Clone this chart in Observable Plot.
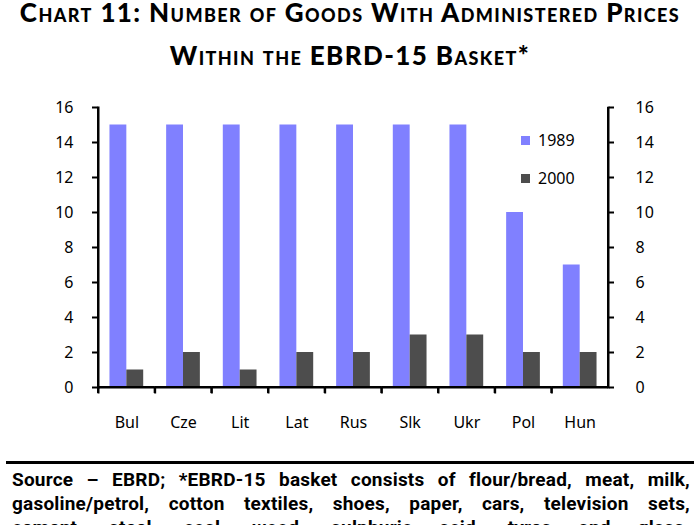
<!DOCTYPE html>
<html><head><meta charset="utf-8">
<script src="https://cdn.jsdelivr.net/npm/d3@7"></script>
<script src="https://cdn.jsdelivr.net/npm/@observablehq/plot@0.6"></script>
<style>
body{margin:0;background:#fff;overflow:hidden;}
#wrap{position:relative;width:700px;height:525px;overflow:hidden;font-family:"Noto Sans";color:#000;}
#head{position:relative;width:700px;height:80px;}
.title{position:absolute;left:0;width:700px;text-align:center;font-family:Lato;font-weight:900;font-variant:small-caps;font-size:26px;letter-spacing:1.4px;line-height:30px;white-space:nowrap;}
#wrap svg{display:block;}
.leg{position:absolute;font-size:16px;line-height:20px;white-space:nowrap;}
.leg span{display:inline-block;width:9px;height:9px;margin-right:8px;vertical-align:1px;}
#foot{position:relative;width:700px;height:65px;}
#footrule{position:absolute;left:6px;width:688px;top:1px;height:3px;background:#000;}
.foot{position:absolute;left:12px;width:678px;font-family:Roboto;font-weight:700;font-size:19px;letter-spacing:0.2px;line-height:24px;text-align:justify;text-align-last:justify;white-space:nowrap;}
</style></head>
<body><div id="wrap"></div>
<script>
const titleLines = ["Chart 11: Number of Goods With Administered Prices", "Within the EBRD-15 Basket*"];
const countries = ["Bul","Cze","Lit","Lat","Rus","Slk","Ukr","Pol","Hun"];
const years = ["1989","2000"];
const v1989 = [15,15,15,15,15,15,15,10,7];
const v2000 = [1,2,1,2,2,3,3,2,2];
const yTicks = [0,2,4,6,8,10,12,14,16];
const colors = ["#8080ff","#4d4d4d"];
const footLines = [
  "Source – EBRD; *EBRD-15 basket consists of flour/bread, meat, milk,",
  "gasoline/petrol, cotton textiles, shoes, paper, cars, television sets,",
  "cement, steel, coal, wood, sulphuric acid, tyres and glass."
];

const data = [];
countries.forEach((c,i)=>{
  data.push({country:c, year:years[0], value:v1989[i]});
  data.push({country:c, year:years[1], value:v2000[i]});
});

const W = 700, ML = 98, MR = 92;
const facetW = (W - ML - MR) / countries.length;
const yMin = yTicks[0], yMax = yTicks[yTicks.length - 1];

const chart = Plot.plot({
  width:W, height:380,
  marginLeft:ML, marginRight:MR, marginTop:27, marginBottom:73,
  style:{fontFamily:"Noto Sans", fontSize:"16px", color:"black", background:"transparent"},
  fx:{domain:countries, padding:0, round:false, label:null},
  x:{domain:years, paddingInner:0, paddingOuter:0.68, round:false, axis:null},
  y:{domain:[yMin, yMax], ticks:yTicks},
  color:{domain:years, range:colors},
  marks:[
    Plot.barY(data,{fx:"country", x:"year", y:"value", fill:"year"}),
    Plot.ruleY([yMin],{stroke:"black", strokeWidth:2}),
    Plot.frame({anchor:"left", facetAnchor:"left", stroke:"black", strokeWidth:2}),
    Plot.frame({anchor:"right", facetAnchor:"right", stroke:"black", strokeWidth:2}),
    Plot.frame({anchor:"left", insetTop:280, insetBottom:-5, stroke:"black", strokeWidth:2}),
    Plot.barY([yMin],{y1:d=>d, y2:d=>d, insetTop:-1, insetBottom:-1, fill:"black"}),
    Plot.barY([yMin],{y1:d=>yMin, y2:d=>yMax, insetLeft:-1, insetRight:facetW-1, facetAnchor:"left", fill:"black"}),
    Plot.barY([yMin],{y1:d=>yMin, y2:d=>yMax, insetLeft:facetW-1, insetRight:-1, facetAnchor:"right", fill:"black"}),
    Plot.barY([yMin],{y1:d=>d, y2:d=>d, insetTop:0, insetBottom:-6, insetLeft:-1, insetRight:facetW-1, fill:"black"}),
    Plot.axisY({anchor:"left", ticks:yTicks, tickSize:6, tickPadding:19, stroke:"black", strokeWidth:2, label:null, tickFormat:d=>String(d)}),
    Plot.axisY({anchor:"right", ticks:yTicks, tickSize:5, tickPadding:22, stroke:"black", strokeWidth:2, label:null, tickFormat:d=>String(d)}),
    Plot.axisFx({anchor:"bottom", tickSize:0, tickPadding:29, label:null})
  ]
});

const wrap = document.getElementById("wrap");
wrap.appendChild(chart);

const head = document.createElement("div"); head.id = "head";
titleLines.forEach((t,i)=>{
  const d = document.createElement("div");
  d.className="title"; d.style.top = (-3 + i*43) + "px"; d.textContent = t;
  head.appendChild(d);
});
wrap.insertBefore(head, chart);

const foot = document.createElement("div"); foot.id = "foot";
const r = document.createElement("div"); r.id="footrule"; foot.appendChild(r);
footLines.forEach((t,i)=>{
  const d = document.createElement("div");
  d.className="foot"; d.style.top=(8 + i*24)+"px"; d.textContent=t;
  foot.appendChild(d);
});
wrap.appendChild(foot);

years.forEach((y,i)=>{
  const d = document.createElement("div");
  d.className="leg"; d.style.left="521px"; d.style.top=(130 + i*38)+"px";
  const s = document.createElement("span"); s.style.background = colors[i];
  d.appendChild(s); d.appendChild(document.createTextNode(y));
  wrap.appendChild(d);
});
</script></body></html>
